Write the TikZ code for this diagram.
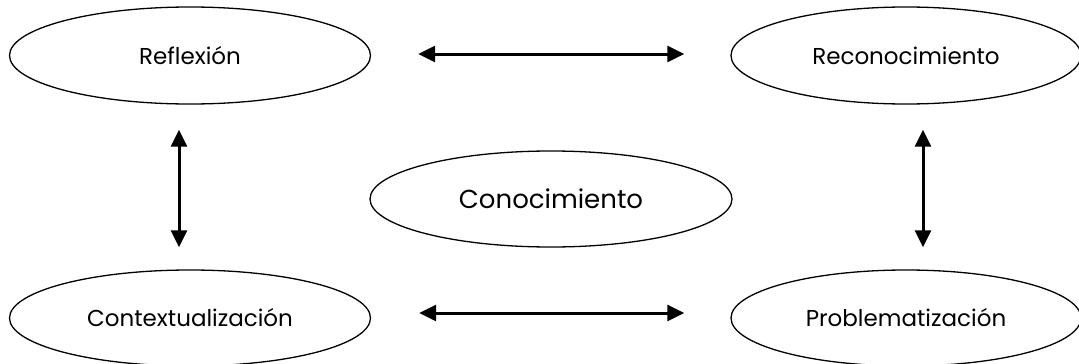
\documentclass[tikz,border=0pt]{standalone}
\usepackage{fontspec}
\setmainfont{Poppins}
\usetikzlibrary{shapes.geometric,arrows.meta}
\begin{document}
\begin{tikzpicture}[x=1pt,y=-1pt,
  oval/.style={ellipse,draw,line width=1.3pt,inner sep=0pt,font=\fontsize{23}{26}\selectfont},
  arr/.style={line width=3pt,{Triangle[length=17pt,width=16pt]}-{Triangle[length=17pt,width=16pt]}}]
\useasboundingbox (0,0) rectangle (1079,364);
\node[oval,minimum width=361pt,minimum height=97pt] (refl) at (190,55.5) {Reflexión};
\node[oval,minimum width=350pt,minimum height=97pt] (reco) at (906,55.5) {Reconocimiento};
\node[oval,minimum width=362pt,minimum height=96pt,font=\fontsize{26}{29}\selectfont] (cono) at (551,199) {Conocimiento};
\node[oval,minimum width=361pt,minimum height=96pt] (ctx) at (190,318) {Contextualización};
\node[oval,minimum width=350pt,minimum height=96pt] (prob) at (906,318) {Problematización};
\draw[arr,shorten <=47pt,shorten >=46pt] ([yshift=1.5pt]refl.east) -- ([yshift=1.5pt]reco.west);
\draw[arr,shorten <=48pt,shorten >=46pt] ([yshift=5pt]ctx.east) -- ([yshift=5pt]prob.west);
\draw[arr,shorten <=25pt,shorten >=22pt] ([xshift=-11pt]refl.south) -- ([xshift=-11pt]ctx.north);
\draw[arr,shorten <=25pt,shorten >=22pt] ([xshift=17pt]reco.south) -- ([xshift=17pt]prob.north);
\end{tikzpicture}
\end{document}
